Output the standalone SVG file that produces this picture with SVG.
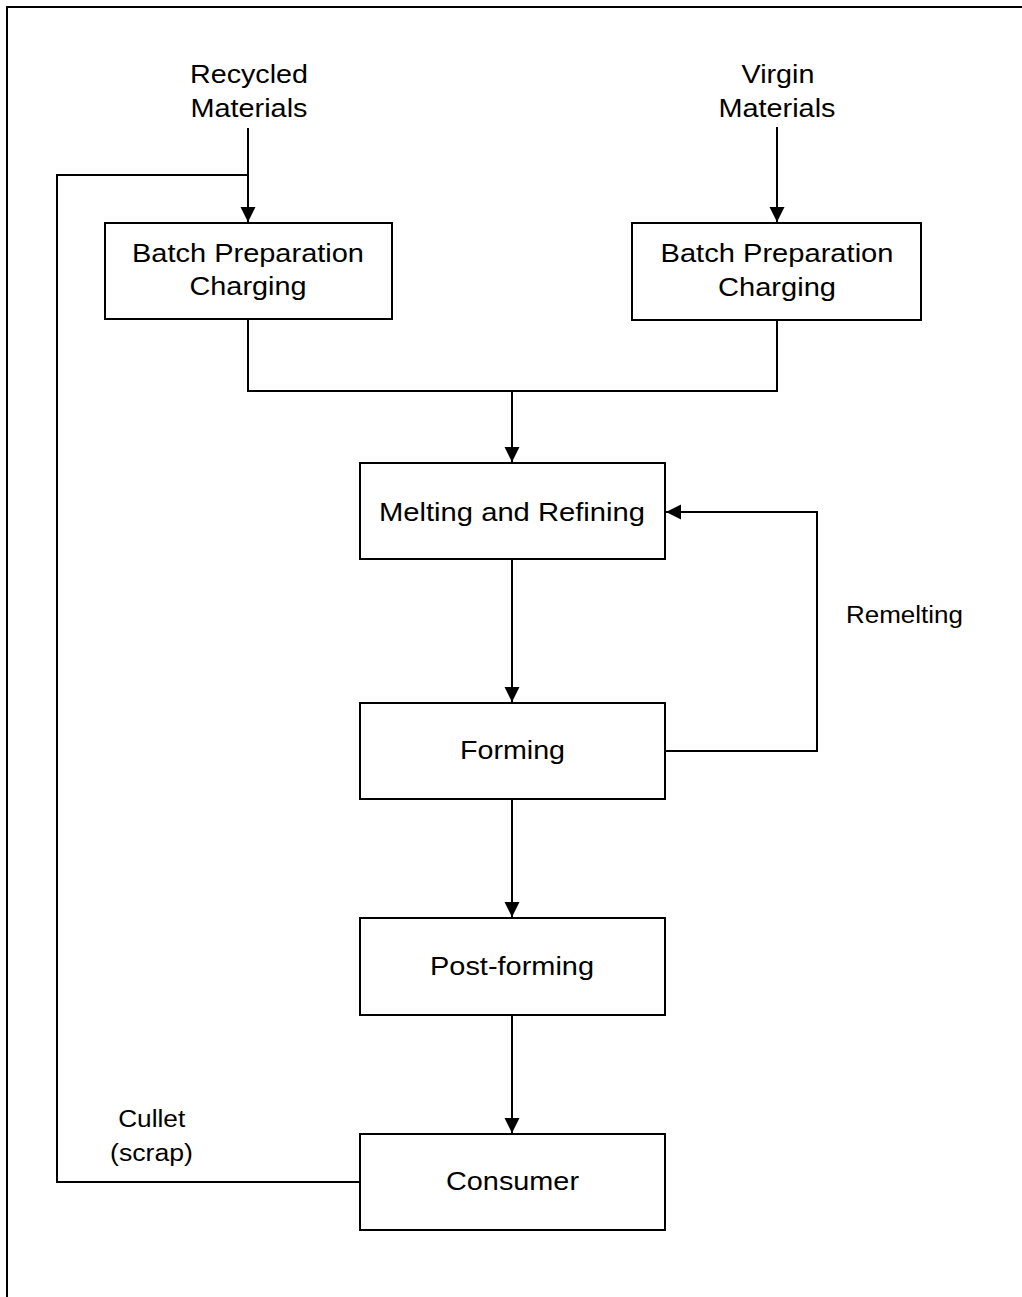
<svg xmlns="http://www.w3.org/2000/svg" width="1022" height="1297" viewBox="0 0 1022 1297">
<style>
.box{fill:#fff;stroke:#000;stroke-width:2}
.ln{fill:none;stroke:#000;stroke-width:2}
.t{font-family:"Liberation Sans",Arial,sans-serif;font-size:26px;fill:#000;text-anchor:middle}
.s{font-family:"Liberation Sans",Arial,sans-serif;font-size:23.5px;fill:#000;text-anchor:middle}
</style>
<defs>
<marker id="ah" markerUnits="userSpaceOnUse" markerWidth="16" markerHeight="16" viewBox="0 0 16 16" refX="15" refY="7.5" orient="auto">
<path d="M0,0 L15,7.5 L0,15 Z" fill="#000"/>
</marker>
</defs>
<rect width="1022" height="1297" fill="#fff"/>
<path class="ln" d="M7,1297 V7 H1022"/>
<g id="connectors">
<path class="ln" d="M248,128 V222" marker-end="url(#ah)"/>
<path class="ln" d="M777,127 V222" marker-end="url(#ah)"/>
<path class="ln" d="M248,319 V391 H777 V320"/>
<path class="ln" d="M512,391 V462" marker-end="url(#ah)"/>
<path class="ln" d="M512,559 V702" marker-end="url(#ah)"/>
<path class="ln" d="M665,751 H817 V512 H666" marker-end="url(#ah)"/>
<path class="ln" d="M512,799 V917" marker-end="url(#ah)"/>
<path class="ln" d="M512,1015 V1133" marker-end="url(#ah)"/>
<path class="ln" d="M360,1182 H57 V175 H248"/>
</g>
<g id="recycled">
<text class="t" x="249" y="83" textLength="118" lengthAdjust="spacingAndGlyphs">Recycled</text>
<text class="t" x="249" y="117" textLength="117" lengthAdjust="spacingAndGlyphs">Materials</text>
</g>
<g id="virgin">
<text class="t" x="778" y="83" textLength="73" lengthAdjust="spacingAndGlyphs">Virgin</text>
<text class="t" x="777" y="117" textLength="117" lengthAdjust="spacingAndGlyphs">Materials</text>
</g>
<g id="batch1">
<rect class="box" x="105" y="223" width="287" height="96"/>
<text class="t" x="248" y="262" textLength="232" lengthAdjust="spacingAndGlyphs">Batch Preparation</text>
<text class="t" x="248" y="295" textLength="117" lengthAdjust="spacingAndGlyphs">Charging</text>
</g>
<g id="batch2">
<rect class="box" x="632" y="223" width="289" height="97"/>
<text class="t" x="777" y="262" textLength="233" lengthAdjust="spacingAndGlyphs">Batch Preparation</text>
<text class="t" x="777" y="296" textLength="118" lengthAdjust="spacingAndGlyphs">Charging</text>
</g>
<g id="melting">
<rect class="box" x="360" y="463" width="305" height="96"/>
<text class="t" x="512" y="521" textLength="266" lengthAdjust="spacingAndGlyphs">Melting and Refining</text>
</g>
<g id="forming">
<rect class="box" x="360" y="703" width="305" height="96"/>
<text class="t" x="512.5" y="759" textLength="105" lengthAdjust="spacingAndGlyphs">Forming</text>
</g>
<g id="postforming">
<rect class="box" x="360" y="918" width="305" height="97"/>
<text class="t" x="512" y="975" textLength="164" lengthAdjust="spacingAndGlyphs">Post-forming</text>
</g>
<g id="consumer">
<rect class="box" x="360" y="1134" width="305" height="96"/>
<text class="t" x="512.5" y="1190" textLength="133" lengthAdjust="spacingAndGlyphs">Consumer</text>
</g>
<g id="remelting">
<text class="s" x="904.5" y="623" textLength="117" lengthAdjust="spacingAndGlyphs">Remelting</text>
</g>
<g id="cullet">
<text class="s" x="151.7" y="1127" textLength="67" lengthAdjust="spacingAndGlyphs">Cullet</text>
<text class="s" x="151.5" y="1161" textLength="83" lengthAdjust="spacingAndGlyphs">(scrap)</text>
</g>
</svg>
